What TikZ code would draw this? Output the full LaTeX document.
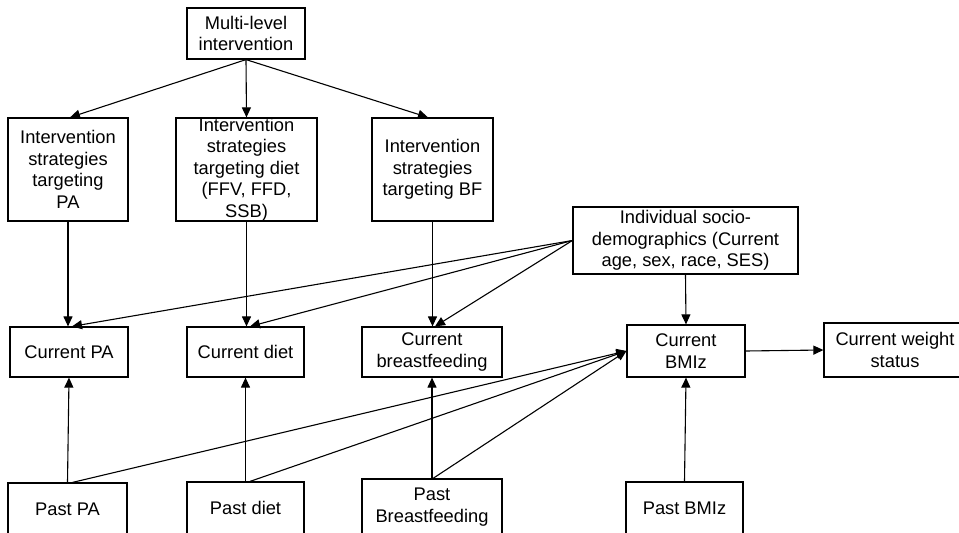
\documentclass[tikz,border=0pt]{standalone}
\usepackage{fontspec}
\setmainfont{Liberation Sans}
\usetikzlibrary{arrows.meta}
\begin{document}
\begin{tikzpicture}[x=1pt,y=-1pt,
  box/.style={draw,line width=1.2pt,inner sep=0pt,align=center,font=\fontsize{18.3}{21.5}\selectfont},
  arr/.style={line width=1.1pt,-{Triangle[length=10pt,width=9pt]}}]
\useasboundingbox (0,0) rectangle (959,533);
\clip (0,0) rectangle (959,533);
\node[box,minimum width=118pt,minimum height=51pt] (ml) at (246,33.5) {Multi-level\\intervention};
\node[box,minimum width=120pt,minimum height=103pt] (spa) at (68,169.5) {Intervention\\strategies\\targeting\\PA};
\node[box,minimum width=141pt,minimum height=103pt,inner ysep=-2pt] (sdi) at (246.5,169.5) {Intervention\\strategies\\targeting diet\\(FFV, FFD,\\SSB)};
\node[box,minimum width=121pt,minimum height=103pt] (sbf) at (432.5,169.5) {Intervention\\strategies\\targeting BF};
\node[box,minimum width=225pt,minimum height=67pt] (soc) at (685.5,240.5) {Individual socio-\\demographics (Current\\age, sex, race, SES)};
\node[box,minimum width=118pt,minimum height=50pt] (cpa) at (69,352) {Current PA};
\node[box,minimum width=117pt,minimum height=50pt] (cdi) at (245.5,352) {Current diet};
\node[box,minimum width=140pt,minimum height=50pt] (cbf) at (432,352) {Current\\breastfeeding};
\node[box,minimum width=118pt,minimum height=52pt] (cbm) at (686,351) {Current\\BMIz};
\node[box,minimum width=142pt,minimum height=54pt] (cws) at (895,350) {Current weight\\status};
\node[box,minimum width=119pt,minimum height=52pt] (ppa) at (67.5,509) {Past PA};
\node[box,minimum width=117pt,minimum height=52pt] (pdi) at (245.5,508) {Past diet};
\node[box,minimum width=140pt,minimum height=56pt] (pbf) at (432,507) {Past\\Breastfeeding};
\node[box,minimum width=117pt,minimum height=52pt] (pbm) at (684.5,508) {Past BMIz};
% top arrows
\draw[arr] (ml.south) -- ([xshift=2pt]spa.north);
\draw[arr] (ml.south) -- (sdi.north);
\draw[arr] (ml.south) -- ([xshift=-4.5pt]sbf.north);
% strategies to current
\draw[arr] (spa.south) -- (cpa.north -| spa.south);
\draw[arr] (sdi.south) -- (cdi.north -| sdi.south);
\draw[arr] (sbf.south) -- (cbf.north -| sbf.south);
% socio-demographics
\draw[arr] (soc.west) -- ([xshift=3pt]cpa.north);
\draw[arr] (soc.west) -- ([xshift=4.5pt]cdi.north);
\draw[arr] (soc.west) -- ([xshift=3pt]cbf.north);
\draw[arr] (soc.south) -- (cbm.north);
% past to current
\draw[arr] (ppa.north) -- (cpa.south);
\draw[arr] (pdi.north) -- (cdi.south);
\draw[arr] (pbf.north) -- (cbf.south);
\draw[arr] (pbm.north) -- (cbm.south);
% past to BMIz
\draw[arr] ([xshift=5pt]ppa.north) -- (cbm.west);
\draw[arr] ([xshift=4.5pt]pdi.north) -- (cbm.west);
\draw[arr] ([xshift=1pt]pbf.north) -- (cbm.west);
% BMIz to weight
\draw[arr] (cbm.east) -- (cws.west);
\end{tikzpicture}
\end{document}
